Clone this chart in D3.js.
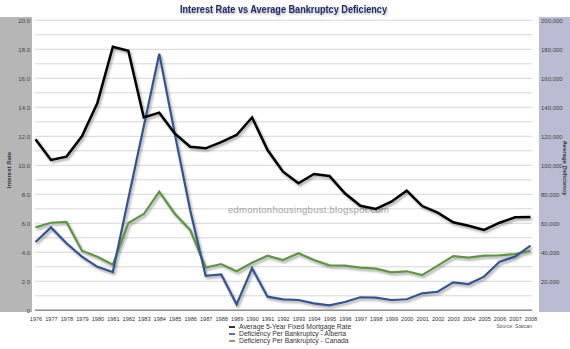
<!DOCTYPE html>
<html><head><meta charset="utf-8">
<script src="https://cdn.jsdelivr.net/npm/d3@7"></script>
<style>
html,body{margin:0;padding:0;background:#fff;}
svg{display:block;font-family:"Liberation Sans",Arial,sans-serif;}
</style></head>
<body>
<svg id="chart" width="570" height="349"></svg>
<script>
const years = [1976,1977,1978,1979,1980,1981,1982,1983,1984,1985,1986,1987,1988,1989,1990,1991,1992,1993,1994,1995,1996,1997,1998,1999,2000,2001,2002,2003,2004,2005,2006,2007,2008];
const mortgageRate = [11.79,10.37,10.6,12.0,14.3,18.18,17.9,13.3,13.63,12.2,11.28,11.17,11.6,12.09,13.3,11.05,9.56,8.76,9.4,9.26,8.07,7.21,6.99,7.49,8.25,7.19,6.73,6.07,5.83,5.54,6.04,6.41,6.43];
const deficiencyAlberta = [47100,57200,46200,37000,30000,26400,77000,127000,177000,122000,69000,23800,24800,4100,29000,9400,7600,7100,4800,3400,5700,9000,8700,7100,7600,11700,12800,19300,18100,23200,33500,37000,44600];
const deficiencyCanada = [57200,60400,60900,41100,37000,31500,60200,66400,81800,66600,55400,29500,31900,26900,32800,37700,34700,39300,34700,31000,30800,29400,28700,26200,26900,24300,30800,37400,36300,37700,37900,38800,41100];
const leftTicks = [0,2,4,6,8,10,12,14,16,18,20];
const rightTicks = [20000,40000,60000,80000,100000,120000,140000,160000,180000,200000];
const seriesNames = ["Average 5-Year Fixed Mortgage Rate","Deficiency Per Bankruptcy - Alberta","Deficiency Per Bankruptcy - Canada"];
const seriesColors = ["#000000","#34528f","#5e9444"];

const svg = d3.select("#chart");
const defs = svg.append("defs");
const f = defs.append("filter").attr("id","shadow").attr("x","-10%").attr("y","-10%").attr("width","120%").attr("height","130%");
f.append("feDropShadow").attr("dx",1.5).attr("dy",2).attr("stdDeviation",1.3).attr("flood-color","#000").attr("flood-opacity",0.35);
const tf = defs.append("filter").attr("id","tshadow");
tf.append("feDropShadow").attr("dx",1).attr("dy",1.2).attr("stdDeviation",0.8).attr("flood-color","#000").attr("flood-opacity",0.35);

const x = d3.scalePoint().domain(years).range([35.5,530.5]);
const yL = d3.scaleLinear().domain([0,20]).range([310.3,20.3]);
const yR = d3.scaleLinear().domain([0,200000]).range([310.3,20.3]);

// side panels
svg.append("rect").attr("x",0).attr("y",17).attr("width",32).attr("height",295).attr("fill","#b6b6b6");
svg.append("rect").attr("x",539).attr("y",17).attr("width",31).attr("height",295).attr("fill","#b9bcd2");

// gridlines
const grid = d3.range(1,21);
svg.append("g").selectAll("line").data(grid).join("line")
  .attr("x1",35).attr("x2",532).attr("y1",d=>yL(d)).attr("y2",d=>yL(d))
  .attr("stroke","#d6d6d6").attr("stroke-width",1);
svg.append("line").attr("x1",35).attr("x2",532).attr("y1",yL(0)).attr("y2",yL(0)).attr("stroke","#8c8c8c").attr("stroke-width",1.6);

// axes
const gL = svg.append("g").attr("transform","translate(30,0)")
  .call(d3.axisLeft(yL).tickValues(leftTicks).tickSize(0).tickPadding(0).tickFormat(d=>d===0?"0":d3.format(".1f")(d)));
gL.select(".domain").remove();
gL.selectAll("text").attr("font-size",6).attr("fill","#444").attr("font-family","Liberation Sans, Arial, sans-serif");

const gR = svg.append("g").attr("transform","translate(541,0)")
  .call(d3.axisRight(yR).tickValues(rightTicks).tickSize(0).tickPadding(0).tickFormat(d3.format(",")));
gR.select(".domain").remove();
gR.selectAll("text").attr("font-size",6).attr("fill","#444").attr("font-family","Liberation Sans, Arial, sans-serif");

const gX = svg.append("g").attr("transform","translate(0,312)")
  .call(d3.axisBottom(x).tickSize(0).tickPadding(5.5));
gX.select(".domain").remove();
gX.selectAll("text").attr("font-size",5.6).attr("fill","#333").attr("font-family","Liberation Sans, Arial, sans-serif");

svg.append("text").attr("x",532).attr("y",328).attr("text-anchor","end")
  .attr("font-size",5).attr("fill","#555").text("Source: Statcan");

// axis titles
svg.append("text").attr("transform","translate(11,170) rotate(-90)").attr("text-anchor","middle")
  .attr("font-size",6).attr("font-weight","bold").attr("fill","#333").text("Interest Rate");
svg.append("text").attr("transform","translate(563,168) rotate(90)").attr("text-anchor","middle")
  .attr("font-size",6).attr("font-weight","bold").attr("fill","#333").text("Average Deficiency");

// watermark
svg.append("text").attr("x",228).attr("y",213).attr("font-size",9.5).attr("fill","#a3a3a3")
  .attr("textLength",161).attr("lengthAdjust","spacing").text("edmontonhousingbust.blogspot.com");

// lines
const lineL = d3.line().x((d,i)=>x(years[i])).y(d=>yL(d));
const lineR = d3.line().x((d,i)=>x(years[i])).y(d=>yR(d));
const lg = svg.append("g").attr("filter","url(#shadow)").attr("fill","none").attr("stroke-width",2.2).attr("stroke-linejoin","miter");
lg.append("path").datum(deficiencyCanada).attr("d",lineR).attr("stroke",seriesColors[2]);
lg.append("path").datum(deficiencyAlberta).attr("d",lineR).attr("stroke",seriesColors[1]);
lg.append("path").datum(mortgageRate).attr("d",lineL).attr("stroke",seriesColors[0]).attr("stroke-width",2.5);

// title
svg.append("text").attr("x",283.5).attr("y",13).attr("text-anchor","middle")
  .attr("font-size",10.5).attr("font-weight","bold").attr("fill","#222c6c").attr("filter","url(#tshadow)")
  .attr("textLength",207).attr("lengthAdjust","spacingAndGlyphs")
  .text("Interest Rate vs Average Bankruptcy Deficiency");

// legend
const leg = svg.append("g").selectAll("g").data(seriesNames).join("g")
  .attr("transform",(d,i)=>`translate(229,${327+i*7})`);
leg.append("line").attr("x1",0).attr("x2",6).attr("y1",0).attr("y2",0).attr("stroke",(d,i)=>seriesColors[i]).attr("stroke-width",1.6);
leg.append("text").attr("x",10).attr("y",2.3).attr("font-size",6.8).attr("fill","#333").text(d=>d);
</script>
</body></html>
